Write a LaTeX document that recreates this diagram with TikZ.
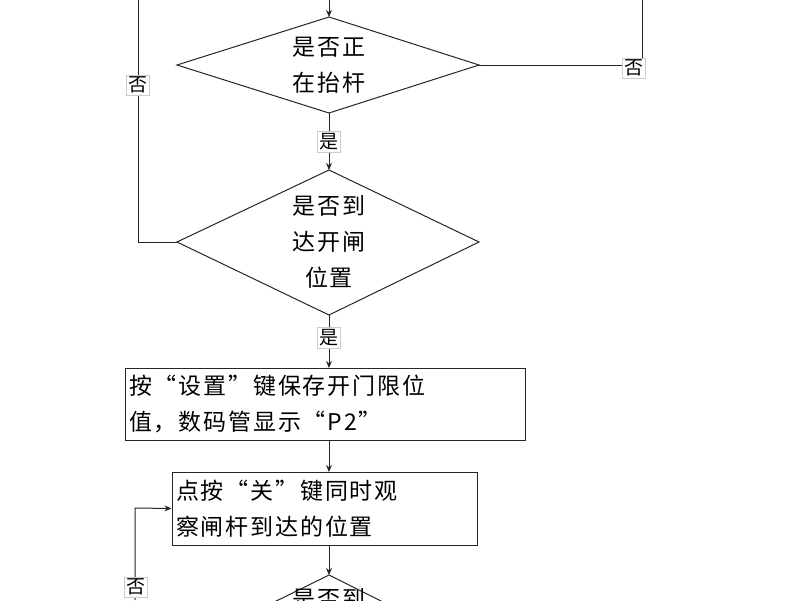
\documentclass[tikz,border=0pt]{standalone}
\usepackage{fontspec}
\newfontfamily\cjk[LetterSpace=8]{Noto Sans CJK SC}
\usetikzlibrary{arrows.meta}
\begin{document}
\begin{tikzpicture}[x=1pt,y=-1pt,
  line/.style={draw=black!85,line width=1pt},
  arr/.style={line,-{Stealth[length=7pt,width=6pt]}},
  lab/.style={fill=white,draw=black!20,inner sep=2pt,font=\cjk\fontsize{19}{19}\selectfont},
  txt/.style={font=\cjk\fontsize{23}{36}\selectfont,align=left}]
\useasboundingbox (0,0) rectangle (800,600);
\clip (0,0) rectangle (800,600);
% diamonds
\draw[line] (177,65) -- (329,17) -- (479,65) -- (329,113) -- cycle;
\coordinate (d1t) at (329,17); \coordinate (d1b) at (329,113);
\coordinate (d1l) at (177,65); \coordinate (d1r) at (479,65);
\node[txt,align=center] (t1) at (329,65) {是否正\\在抬杆};
\draw[line] (177,242) -- (329,170) -- (479,242) -- (329,315) -- cycle;
\coordinate (d2t) at (329,170); \coordinate (d2b) at (329,315);
\coordinate (d2l) at (177,242);
\node[txt,align=center] (t2) at (329,242) {是否到\\达开闸\\位置};
\draw[line] (177,650) -- (329,575) -- (479,650) -- (329,725) -- cycle;
\coordinate (d3t) at (329,575);
\node[txt,align=center,anchor=north] (t3) at (329,585) {是否到};
% rectangles
\node[line,draw,txt,minimum width=400pt,minimum height=72pt,text width=392pt,inner sep=3pt] (r1) at (325,404) {按“设置”键保存开门限位\\值，数码管显示“P2”};
\node[line,draw,txt,minimum width=305pt,minimum height=73pt,text width=297pt,inner sep=3pt] (r2) at (324.5,508.5) {点按“关”键同时观\\察闸杆到达的位置};
% free ends
\coordinate (top) at (329,0);
\coordinate (lt) at (138,0);
\coordinate (lc) at (138,242);
\coordinate (rt) at (642,0);
\coordinate (rc) at (642,65);
\coordinate (lb) at (135,600);
\coordinate (lm) at (135,508);
\coordinate (r1t) at (329,368); \coordinate (r1b) at (329,440);
\coordinate (r2t) at (329,472); \coordinate (r2b) at (329,545);
% connectors
\draw[arr] (top) -- (d1t);
\draw[line] (d2l) -- (lc) -- (lt);
\draw[line] (d1r) -- (rc) -- (rt);
\draw[arr] (d1b) -- (d2t);
\draw[arr] (d2b) -- (r1t);
\draw[arr] (r1b) -- (r2t);
\draw[arr] (r2b) -- (d3t);
\draw[arr] (lb) -- (lm) -- (r2.west);
% labels
\node[lab] (n1) at (138,85) {否};
\node[lab] (n2) at (634,68) {否};
\node[lab] (y1) at (329,142) {是};
\node[lab] (y2) at (329,338) {是};
\node[lab] (n3) at (136,587) {否};
\end{tikzpicture}
\end{document}
